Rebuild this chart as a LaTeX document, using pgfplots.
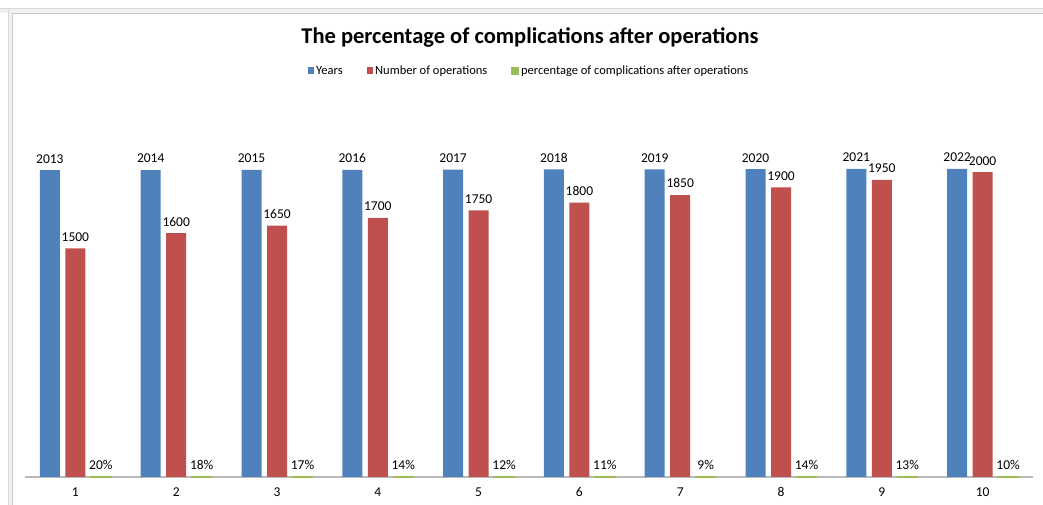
\documentclass[border=0pt]{standalone}
\usepackage{pgfplots}
\pgfplotsset{compat=1.18}
\usepackage{fontspec}
\setmainfont{Carlito}
\definecolor{xblue}{HTML}{4F81BD}
\definecolor{xred}{HTML}{C0504D}
\definecolor{xgreen}{HTML}{9BBB59}
\begin{document}
\begin{tikzpicture}
\begin{axis}[
  scale only axis, width=1008pt, height=381pt,
  xmin=0.5, xmax=10.5, ymin=0, ymax=2500,
  axis y line=none,
  axis x line*=bottom,
  x axis line style={draw=gray!55, line width=1.1pt, -},
  xtick={1,...,10},
  major tick length=0pt,
  /pgf/number format/assume math mode=true,
  tick label style={font=\fontsize{13.5}{16}\selectfont},
  xticklabel style={yshift=-7pt},
  ybar=5.5pt, bar width=20pt,
  clip=false,
  point meta=explicit symbolic,
  nodes near coords,
  every node near coord/.append style={font=\fontsize{13.5}{16}\selectfont, text=black, yshift=3.5pt},
  legend columns=3,
  legend style={at={(0.5,1)}, anchor=center, yshift=25pt, draw=none, fill=none,
    font=\fontsize{12.5}{15}\selectfont,
    /tikz/every even column/.append style={column sep=22pt}},
  legend image code/.code={\fill[#1] (0pt,-3pt) rectangle (6.5pt,3.5pt);},
]
\addplot[fill=xblue, draw=none] coordinates {
 (1,2013)[2013] (2,2014)[2014] (3,2015)[2015] (4,2016)[2016] (5,2017)[2017]
 (6,2018)[2018] (7,2019)[2019] (8,2020)[2020] (9,2021)[2021] (10,2022)[2022]};
\addplot[fill=xred, draw=none] coordinates {
 (1,1500)[1500] (2,1600)[1600] (3,1650)[1650] (4,1700)[1700] (5,1750)[1750]
 (6,1800)[1800] (7,1850)[1850] (8,1900)[1900] (9,1950)[1950] (10,2000)[2000]};
\addplot[fill=xgreen, draw=xgreen, line width=1.3pt] coordinates {
 (1,0.20)[20\%] (2,0.18)[18\%] (3,0.17)[17\%] (4,0.14)[14\%] (5,0.12)[12\%]
 (6,0.11)[11\%] (7,0.09)[9\%] (8,0.14)[14\%] (9,0.13)[13\%] (10,0.10)[10\%]};
\legend{Years, Number of operations, percentage of complications after operations}
\coordinate (O) at (axis cs:0.5,0);
\end{axis}
\pgfresetboundingbox
\begin{scope}[shift={(O)}, x=1pt, y=1pt]
\useasboundingbox (-25,-28) rectangle (1018,477);
% spreadsheet frame
\fill[gray!12] (-25,464) rectangle (1018,469);
\fill[gray!12] (-17,-28) rectangle (-13,469);
\draw[gray!45, line width=0.8pt] (-13,-28) -- (-13,464) -- (1018,464);
\draw[gray!30, line width=0.5pt] (-25,469) -- (1018,469);
\draw[gray!30, line width=0.5pt] (-17,-28) -- (-17,469);
\node[font=\fontsize{22.5}{26}\selectfont\bfseries] at (505,439) {The percentage of complications after operations};
\end{scope}
\end{tikzpicture}
\end{document}
